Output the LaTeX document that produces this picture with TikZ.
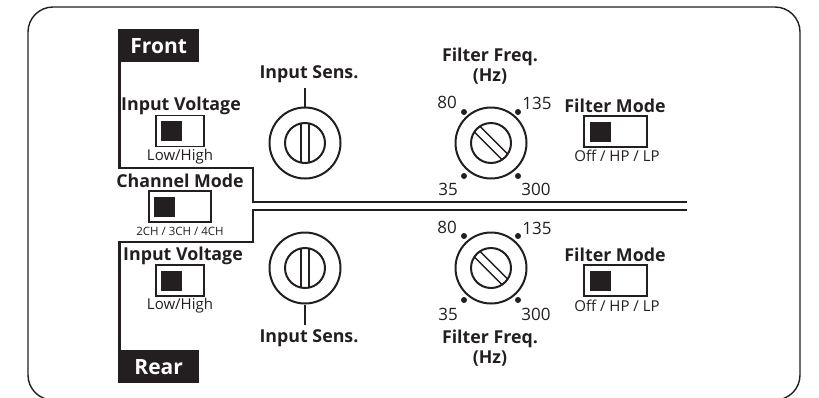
\documentclass[tikz,border=0pt]{standalone}
\usepackage{fontspec}
\setmainfont[Ligatures=NoCommon]{Open Sans}
\usetikzlibrary{positioning}
\definecolor{ink}{RGB}{35,31,32}

\begin{document}
\begin{tikzpicture}[x=1pt, y=-1pt,
  every node/.style={text=ink, inner sep=0pt},
  head/.style={font=\bfseries\fontsize{17.8}{20}\selectfont, align=center},
  note/.style={font=\fontsize{15}{14}\selectfont},
  num/.style={font=\fontsize{17}{17}\selectfont},
  tag/.style={fill=ink, text=white, anchor=north west, minimum width=81pt,
              minimum height=33pt, font=\bfseries\fontsize{21}{21}\selectfont},
  sw/.style={draw=ink, line width=1.3pt, minimum height=31pt},
  blk/.style={fill=ink, minimum width=21pt, minimum height=20pt},
  ring/.style={circle, draw=ink, line width=2pt, minimum size=71pt},
  hub/.style={circle, draw=ink, line width=2pt, minimum size=40pt},
  dot/.style={circle, fill=ink, minimum size=6pt},
  slot/.style={draw=ink, line width=1.5pt},
  rail/.style={draw=ink, line width=2.7pt},
  stem/.style={draw=ink, line width=2.6pt}
]
\useasboundingbox (0,0) rectangle (819,397);
\draw[ink, line width=1.4pt, rounded corners=25pt] (28,7) rectangle (800,400);

% left column: front / channel / rear
\node[tag] (frontTag) at (118,29) {Front};
\node[head] (ivF) at (181,106) {Input Voltage};
\node[sw, minimum width=48pt] (swIvF) at (180,131) {};
\node[blk, right=5pt of swIvF.west] (blkIvF) {};
\node[note] (noteIvF) at (180,157) {Low/High};

\node[head] (chMode) at (180,181) {Channel Mode};
\node[sw, minimum width=62pt] (swCh) at (180,206.5) {};
\node[blk, right=5pt of swCh.west] (blkCh) {};
\node[note, font=\fontsize{11.5}{11}\selectfont] (noteCh) at (180,231) {2CH / 3CH / 4CH};

\node[head] (ivR) at (183,256) {Input Voltage};
\node[sw, minimum width=48pt] (swIvR) at (180,280.5) {};
\node[blk, right=5pt of swIvR.west] (blkIvR) {};
\node[note] (noteIvR) at (180,306) {Low/High};
\node[tag] (rearTag) at (118,350) {Rear};

% dividing lines
\coordinate (kneeF) at (253,168);
\coordinate (endF) at (687,202);
\coordinate (kneeR) at (253,242);
\coordinate (endR) at (687,210);
\draw[rail] ([xshift=1.3pt]frontTag.south west) |- (kneeF) |- (endF);
\draw[rail] ([xshift=1.3pt]rearTag.north west) |- (kneeR) |- (endR);

% input sensitivity
\node[head] (sensFlbl) at (309,74) {Input Sens.};
\node[ring] (sensF) at (305,143) {};
\node[hub] (sensFhub) at (305,143) {};
\coordinate (stemF) at (305,88);
\draw[stem] (sensF.north) -- (stemF);

\node[ring] (sensR) at (305,268) {};
\node[hub] (sensRhub) at (305,268) {};
\coordinate (stemR) at (305,325);
\draw[stem] (sensR.south) -- (stemR);
\node[head] (sensRlbl) at (309,338) {Input Sens.};

\foreach \k in {sensF,sensR} {
  \begin{scope}[shift={(\k)}]
    \draw[slot] (-4,-19.5) -- (-4,19.5) (4,-19.5) -- (4,19.5);
  \end{scope}
}

% filter frequency
\node[head] (freqFlbl) at (490,66) {Filter Freq.\\(Hz)};
\node[ring] (freqF) at (491,143) {};
\node[hub] (freqFhub) at (491,143) {};
\node[dot] (d80F) at (464,112) {};
\node[dot] (d135F) at (518,112) {};
\node[dot] (d35F) at (464,176) {};
\node[dot] (d300F) at (518,176) {};
\node[num] (n80F) at (447,102) {80};
\node[num] (n135F) at (537,103) {135};
\node[num] (n35F) at (448,189) {35};
\node[num] (n300F) at (536,189) {300};

\node[ring] (freqR) at (491,268) {};
\node[hub] (freqRhub) at (491,268) {};
\node[dot] (d80R) at (464,236) {};
\node[dot] (d135R) at (518,236) {};
\node[dot] (d35R) at (464,300) {};
\node[dot] (d300R) at (518,300) {};
\node[num] (n80R) at (447,227) {80};
\node[num] (n135R) at (537,228) {135};
\node[num] (n35R) at (448,314) {35};
\node[num] (n300R) at (536,314) {300};
\node[head] (freqRlbl) at (490,348) {Filter Freq.\\(Hz)};

\foreach \k in {freqF,freqR} {
  \begin{scope}[shift={(\k)}, rotate=45]
    \draw[slot] (-4,-19.5) -- (-4,19.5) (4,-19.5) -- (4,19.5);
  \end{scope}
}

% filter mode
\node[head] (fmF) at (615,106) {Filter Mode};
\node[sw, minimum width=63pt] (swFmF) at (615.5,131.5) {};
\node[blk, right=6pt of swFmF.west] (blkFmF) {};
\node[note] (noteFmF) at (617,156) {Off / HP / LP};

\node[head] (fmR) at (615,255) {Filter Mode};
\node[sw, minimum width=63pt] (swFmR) at (615.5,280.5) {};
\node[blk, right=6pt of swFmR.west] (blkFmR) {};
\node[note] (noteFmR) at (617,306) {Off / HP / LP};
\end{tikzpicture}
\end{document}
